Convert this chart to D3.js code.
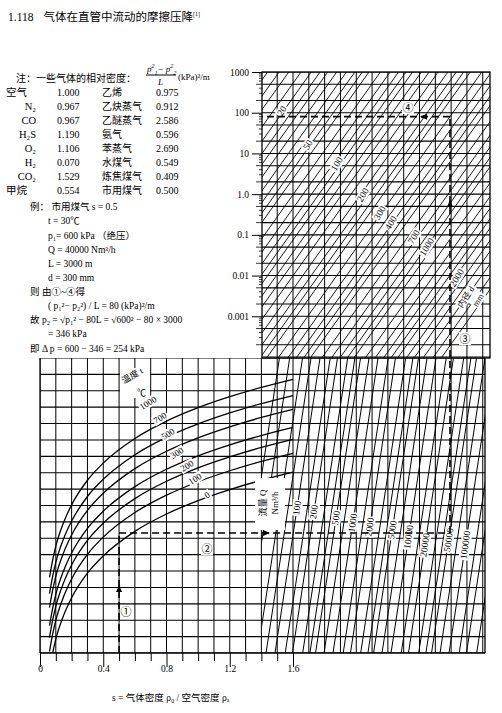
<!DOCTYPE html>
<html><head><meta charset="utf-8">
<script src="https://cdn.jsdelivr.net/npm/d3@7/dist/d3.min.js"></script>
<style>body{margin:0;background:#fff}svg{display:block}text{font-family:"Liberation Serif","Noto Sans CJK SC",serif;fill:#000}</style>
</head><body><svg id="c" width="502" height="713"></svg>
<script>
// ---------- data ----------
const gasRows = [
 ["空气","1.000","乙烯","0.975"],["N₂","0.967","乙炔蒸气","0.912"],["CO","0.967","乙醚蒸气","2.586"],
 ["H₂S","1.190","氨气","0.596"],["O₂","1.106","苯蒸气","2.690"],["H₂","0.070","水煤气","0.549"],
 ["CO₂","1.529","炼焦煤气","0.409"],["甲烷","0.554","市用煤气","0.500"]];
const pTicks = [1000,100,10,1.0,0.1,0.01,0.001];
const pTickLabels = ["1000","100","10","1.0","0.1","0.01","0.001"];
const sTicks = [0,0.4,0.8,1.2,1.6];
const sPts = [0.06,0.08,0.1,0.15,0.2,0.3,0.4,0.6,0.8,1.0,1.2,1.4,1.6];
const temps = [0,100,200,300,500,700,1000];
const tempCurves = [
 [null,0,0.85,2.31,3.37,4.87,5.92,7.42,8.48,9.30,9.97,10.54,11.03],
 [0.09,1.15,2.0,3.46,4.52,6.02,7.07,8.57,9.63,10.45,11.12,11.69,12.18],
 [0.94,2.0,2.85,4.31,5.37,6.87,7.92,9.42,10.48,11.30,11.97,12.54,13.03],
 [1.67,2.73,3.58,5.04,6.10,7.60,8.65,10.15,11.21,12.03,12.70,13.27,13.76],
 [2.77,3.83,4.68,6.14,7.20,8.70,9.75,11.25,12.31,13.13,13.80,14.37,14.86],
 [3.62,4.68,5.53,6.99,8.05,9.55,10.60,12.10,13.16,13.98,14.65,15.22,15.71],
 [4.61,5.67,6.52,7.98,9.04,10.54,11.59,13.09,14.15,14.97,15.64,16.21,16.70]];
const tempLabelPos = [[207,495],[195,479],[187,466],[177,453],[168,434],[160,418],[148,403]];
const qLines = [20,30,50,70,100,150,200,300,400,500,700,1000,1500,2000,3000,4000,5000,7000,10000,15000,20000,30000,40000,50000,70000,100000,150000,200000,300000,500000];
const qLabels = [100,200,500,1000,2000,5000,10000,20000,50000,100000];
const qLabelY = [508,512,518,523,527,530,537,545,540,545];
const dLines = [8,10,12,14,17,20,23,26,30,35,40,45,50,60,70,80,90,100,115,130,150,175,200,225,250,300,350,400,450,500,600,700,800,900,1000,1200,1400,1600,1800,2000,2300,2600,3000,3500,4000];
const dLabels = [20,50,100,200,300,400,700,1000,2000];
const dLabelPos = [[282,111],[308,145],[337,164],[363,195],[380,213],[391,223],[414,237],[427,247],[457,278]];

// ---------- scales ----------
const svg = d3.select("#c");
const xS = d3.scaleLinear().domain([0,1.6]).range([40,293]);
const yP = d3.scaleLog().domain([1e-4,1e3]).range([357,72]);
const yU = d3.scaleLinear().domain([0,18]).range([653,358]);
const xQ = d3.scaleLog().domain([100,1e5]).range([300,474]);
const uRef = 10, qSlope = 2.5, K = 1.31e5;

// ---------- title & text ----------
const ttl = svg.append("text").attr("x",8).attr("y",21).attr("font-size",11.5).attr("font-family","Noto Sans CJK SC");
ttl.append("tspan").text("1.118");
ttl.append("tspan").attr("dx",10).text("气体在直管中流动的摩擦压降");
ttl.append("tspan").attr("dy",-5).attr("font-size",6).text("[1]");
const T = (x,y,t,fs=10.5,anchor="start")=>svg.append("text").attr("x",x).attr("y",y).attr("font-size",fs).attr("text-anchor",anchor).text(t);
T(16,82,"注：一些气体的相对密度：",10);
const hdr = svg.append("text").attr("x",147).attr("y",72).attr("font-size",9).attr("font-style","italic");
hdr.append("tspan").text("p");hdr.append("tspan").attr("font-size",6).attr("dy",-4).text("2");hdr.append("tspan").attr("font-size",6).attr("dy",7).text("1");
hdr.append("tspan").attr("dy",-3).text("− p");hdr.append("tspan").attr("font-size",6).attr("dy",-4).text("2");hdr.append("tspan").attr("font-size",6).attr("dy",7).text("2");
svg.append("line").attr("x1",146).attr("x2",176).attr("y1",75).attr("y2",75).attr("stroke","#000");
T(158,85,"L",9).attr("font-style","italic");
T(178,80,"(kPa)²/m",9);
gasRows.forEach((r,i)=>{const y=96+i*14;
 T(i==0||i==7?6:36,y,r[0],10.5,i==0||i==7?"start":"end"); T(57,y,r[1],10); T(102,y,r[2],10); T(156,y,r[3],10);});
const ex = [[30,210,"例： 市用煤气 s = 0.5"],[48,224,"t = 30℃"],[48,239,"p₁= 600 kPa （绝压）"],[48,253,"Q = 40000 Nm³/h"],
 [48,267,"L = 3000 m"],[48,281,"d = 300 mm"],[30,295,"则   由①~④得"],[48,309,"( p₁²− p₂²) / L = 80 (kPa)²/m"],
 [30,323,"故   p₂ = √p₁² − 80L = √600² − 80 × 3000"],[48,337,"= 346 kPa"],[30,352,"即   Δ p = 600 −  346  = 254 kPa"]];
ex.forEach(e=>T(e[0],e[1],e[2],9.5));

// ---------- upper panel ----------
const up = svg.append("g");
up.append("clipPath").attr("id","cu").append("rect").attr("x",262).attr("y",72).attr("width",228).attr("height",286);
const ug = up.append("g").attr("clip-path","url(#cu)");
const hvals=[];for(let e=-4;e<=3;e++)[1,2,5].forEach(m=>hvals.push(m*Math.pow(10,e)));
ug.selectAll(".h").data(hvals).join("line").attr("x1",262).attr("x2",490).attr("y1",d=>yP(d)).attr("y2",d=>yP(d)).attr("stroke","#000").attr("stroke-width",1.1);
const vS = d3.range(14,30).map(d=>d/10);
ug.selectAll(".v").data(vS).join("line").attr("x1",d=>xS(d)).attr("x2",d=>xS(d)).attr("y1",72).attr("y2",358).attr("stroke","#000").attr("stroke-width",1);
const qEnds=[10,1e7];
ug.selectAll(".d").data(dLines).join("line")
 .attr("x1",xQ(qEnds[0])).attr("x2",xQ(qEnds[1]))
 .attr("y1",d=>yP(K*qEnds[0]*qEnds[0]/Math.pow(d,5))).attr("y2",d=>yP(K*qEnds[1]*qEnds[1]/Math.pow(d,5)))
 .attr("stroke","#000").attr("stroke-width",0.9);
up.append("rect").attr("x",262).attr("y",72).attr("width",228).attr("height",286).attr("fill","none").attr("stroke","#000").attr("stroke-width",1.3);
const ax = d3.axisLeft(yP).tickValues(pTicks).tickFormat((d,i)=>pTickLabels[i]).tickSize(10);
const axg = up.append("g").attr("transform","translate(262,0)").call(ax);
axg.select(".domain").remove();
axg.selectAll("text").attr("font-size",9.5).attr("font-family","Liberation Serif");
const minor=[];for(let e=-4;e<3;e++)[2,3,4,5,6,7,8,9].forEach(m=>minor.push(m*Math.pow(10,e)));
up.selectAll(".mt").data(minor).join("line").attr("x1",d=>[2,5].includes(Math.round(d/Math.pow(10,Math.floor(Math.log10(d)+1e-9))))?256:259).attr("x2",262).attr("y1",d=>yP(d)).attr("y2",d=>yP(d)).attr("stroke","#000").attr("stroke-width",0.8);
const lab=(x,y,t,rot,fs=9.5)=>{const g=svg.append("g").attr("transform",`translate(${x},${y}) rotate(${rot})`);
 const tt=g.append("text").attr("font-size",fs).attr("text-anchor","middle").attr("dy",3).text(t);
 const bb=tt.node().getBBox(); g.insert("rect","text").attr("x",bb.x-1).attr("y",bb.y).attr("width",bb.width+2).attr("height",bb.height).attr("fill","#fff");return g;};
dLabels.forEach((d,i)=>lab(dLabelPos[i][0],dLabelPos[i][1],String(d),-58));
lab(466,297,"内径 d",-58,8.5).select("text").attr("font-family","Noto Sans CJK SC");
lab(478,300,"mm",-58,8.5);
const circ=(x,y,t)=>{svg.append("rect").attr("x",x-6).attr("y",y-7).attr("width",12).attr("height",13).attr("fill","#fff");
 svg.append("text").attr("x",x).attr("y",y+4).attr("font-size",11).attr("text-anchor","middle").attr("font-family","DejaVu Sans").text(t);};
circ(408,108,"④"); circ(465,339,"③");

// ---------- lower panel ----------
const lo = svg.append("g");
lo.append("clipPath").attr("id","cl").append("rect").attr("x",40).attr("y",358).attr("width",445).attr("height",295);
const lg = lo.append("g").attr("clip-path","url(#cl)");
lg.selectAll(".h").data(d3.range(0,19)).join("line").attr("x1",40).attr("x2",485).attr("y1",d=>yU(d)).attr("y2",d=>yU(d)).attr("stroke","#000").attr("stroke-width",1.1);
lg.selectAll(".v").data(d3.range(0,29).map(d=>d/10)).join("line").attr("x1",d=>xS(d)).attr("x2",d=>xS(d)).attr("y1",358).attr("y2",653).attr("stroke","#000").attr("stroke-width",1);
const qg = lo.append("g");
qg.append("clipPath").attr("id","cq").append("rect").attr("x",262).attr("y",358).attr("width",223).attr("height",295);
qg.append("g").attr("clip-path","url(#cq)").selectAll("line").data(qLines).join("line")
 .attr("x1",q=>xQ(q)+(0-uRef)*qSlope).attr("y1",yU(0)).attr("x2",q=>xQ(q)+(18-uRef)*qSlope).attr("y2",yU(18))
 .attr("stroke","#000").attr("stroke-width",1);
lo.append("rect").attr("x",120).attr("y",368).attr("width",30).attr("height",30).attr("fill","#fff");
lo.append("rect").attr("x",255).attr("y",478).attr("width",30).attr("height",52).attr("fill","#fff");
const line = d3.line().defined(d=>d[1]!=null).x(d=>xS(d[0])).y(d=>yU(d[1])).curve(d3.curveMonotoneX);
lg.selectAll(".tc").data(tempCurves).join("path").attr("d",c=>line(sPts.map((s,i)=>[s,c[i]]))).attr("fill","none").attr("stroke","#000").attr("stroke-width",1.3);
temps.forEach((t,i)=>lab(tempLabelPos[i][0],tempLabelPos[i][1],String(t),-32,9));
const tl=svg.append("g").attr("transform","translate(124,384) rotate(-30)");
tl.append("text").attr("font-size",9).attr("font-family","Noto Sans CJK SC").text("温度 t");
svg.append("text").attr("x",137).attr("y",396).attr("font-size",9).text("℃");
const ql=svg.append("g").attr("transform","translate(266,503) rotate(-90)");
ql.append("text").attr("font-size",9).attr("text-anchor","middle").attr("font-family","Noto Sans CJK SC").text("流量 Q");
ql.append("text").attr("font-size",9).attr("text-anchor","middle").attr("y",12).text("Nm³/h");
qLabels.forEach((q,i)=>lab(xQ(q)+(yU.invert(qLabelY[i])-uRef)*qSlope,qLabelY[i],String(q),-82,9.5));
lo.append("line").attr("x1",40).attr("x2",40).attr("y1",358).attr("y2",653).attr("stroke","#000").attr("stroke-width",1.3);
lo.append("line").attr("x1",485).attr("x2",485).attr("y1",358).attr("y2",653).attr("stroke","#000").attr("stroke-width",1.3);
const sa = d3.axisBottom(xS).tickValues(d3.range(0,17).map(d=>d/10)).tickSize(8).tickFormat(d=>sTicks.some(v=>Math.abs(v-d)<1e-9)?String(d):"");
const sag = lo.append("g").attr("transform","translate(0,653)").call(sa);
sag.select(".domain").attr("d","M40,0H485").attr("stroke-width",1.3);
sag.selectAll(".tick line").attr("y2",d=>sTicks.some(v=>Math.abs(v-d)<1e-9)?14:8);
sag.selectAll("text").attr("font-size",9.5).attr("font-family","Liberation Serif").attr("dy",8);
svg.append("text").attr("x",112).attr("y",701).attr("font-size",9.5).attr("font-family","Noto Sans CJK SC").text("s =  气体密度 ρ₀ / 空气密度 ρₐ");
circ(207,549,"②"); circ(126,612,"①");

const dash = (x1,y1,x2,y2)=>svg.append("line").attr("x1",x1).attr("y1",y1).attr("x2",x2).attr("y2",y2).attr("stroke","#000").attr("stroke-width",1.6).attr("stroke-dasharray","7,4");
const ex_s=0.5, ex_u=yU.invert(533), ex_p=80;
dash(xS(ex_s),653,xS(ex_s),yU(ex_u));
dash(xS(ex_s),yU(ex_u),450,yU(ex_u));
dash(450,yU(ex_u),450,yP(ex_p));
dash(450,yP(ex_p),262,yP(ex_p));
const arrow=(x,y,rot)=>svg.append("path").attr("d","M0,0L-7,-3L-7,3Z").attr("transform",`translate(${x},${y}) rotate(${rot})`).attr("fill","#000");
arrow(xS(ex_s),585,-90); arrow(270,yU(ex_u),0); arrow(450,200,-90); arrow(420,yP(ex_p),180);
</script></body></html>
